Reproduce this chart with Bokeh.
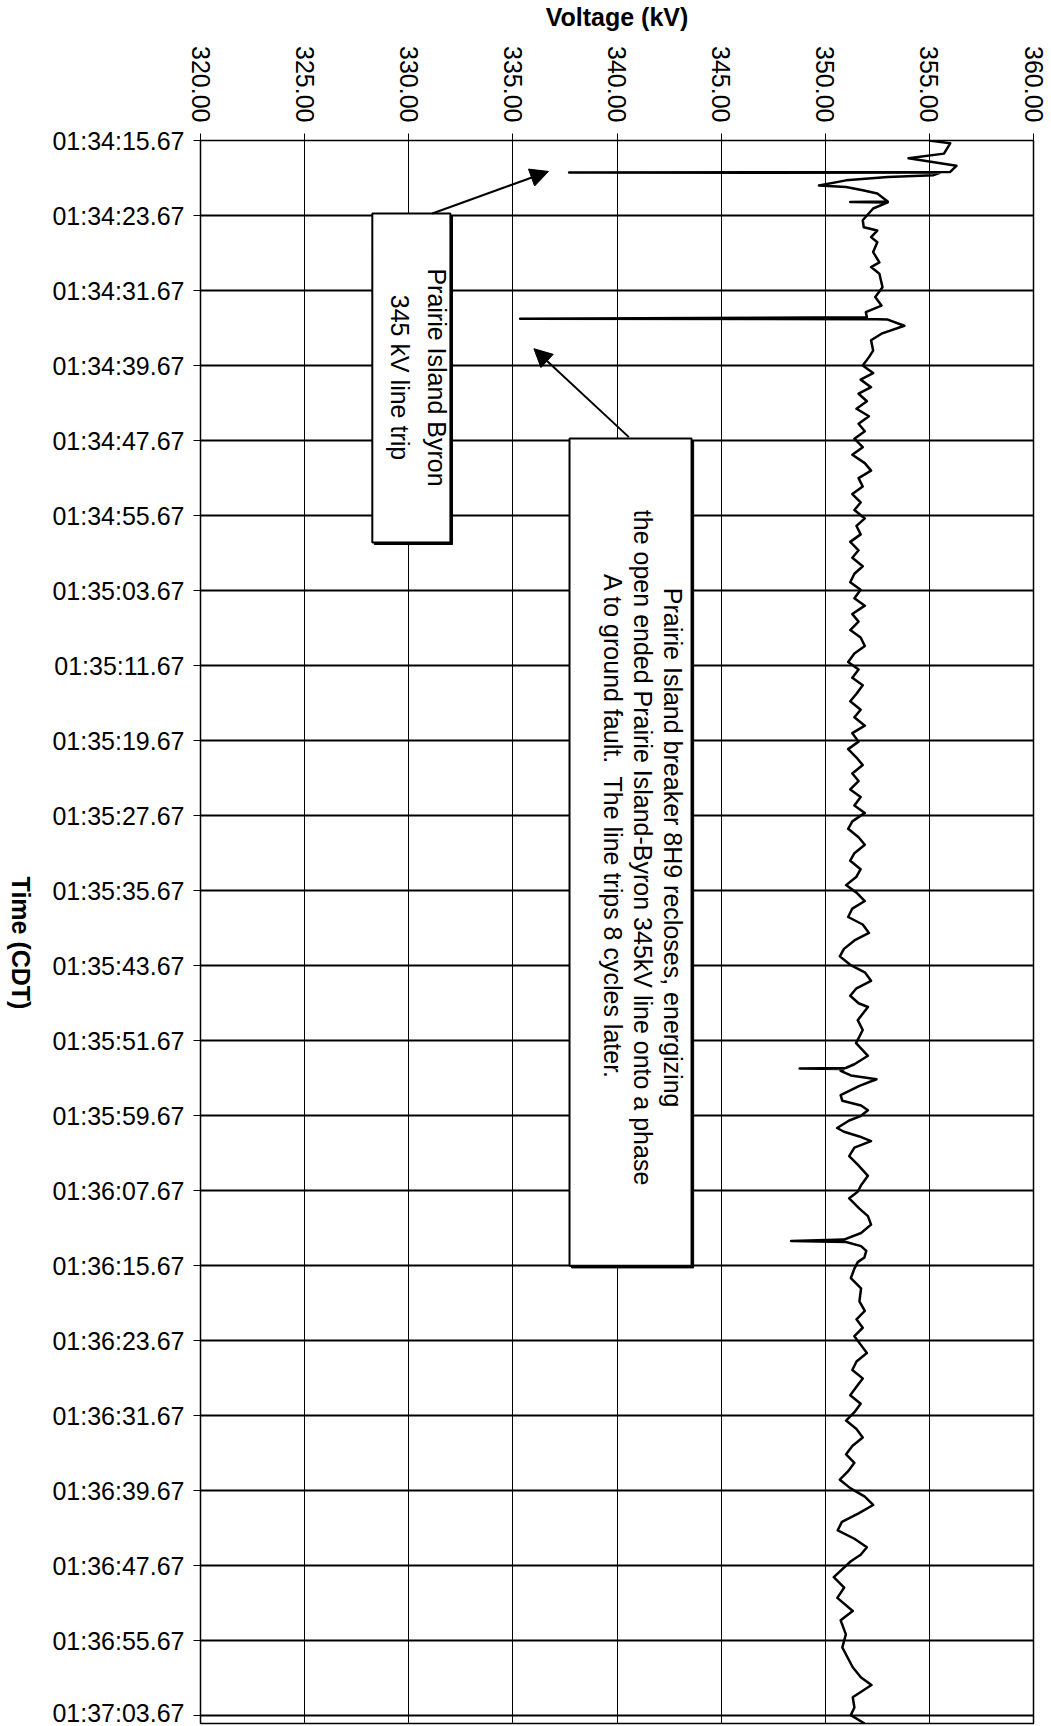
import math
from bokeh.plotting import figure
from bokeh.layouts import row
from bokeh.models import Range1d, FixedTicker, BoxAnnotation, Label, Arrow, NormalHead
from bokeh.core.properties import value
from bokeh.embed import file_html
from bokeh.resources import INLINE

# ---- data -------------------------------------------------------------
# time axis: seconds after 01:34:15.67 (CDT)
tick_seconds = [0, 8, 16, 24, 32, 40, 48, 56, 64, 72, 80, 88, 96, 104,
                112, 120, 128, 136, 144, 152, 160, 168]
tick_labels = ["01:34:15.67", "01:34:23.67", "01:34:31.67", "01:34:39.67",
               "01:34:47.67", "01:34:55.67", "01:35:03.67", "01:35:11.67",
               "01:35:19.67", "01:35:27.67", "01:35:35.67", "01:35:43.67",
               "01:35:51.67", "01:35:59.67", "01:36:07.67", "01:36:15.67",
               "01:36:23.67", "01:36:31.67", "01:36:39.67", "01:36:47.67",
               "01:36:55.67", "01:37:03.67"]
volt_ticks = [320, 325, 330, 335, 340, 345, 350, 355, 360]
volt_labels = ["320.00", "325.00", "330.00", "335.00", "340.00",
               "345.00", "350.00", "355.00", "360.00"]

# trace: (seconds after 01:34:15.67, kV)
t_sec = [0.0, 0.3, 1.4, 1.9, 2.7, 3.35, 3.4, 3.45, 3.7, 3.9, 4.25, 4.8, 4.95,
         5.3, 5.65, 6.5, 6.55, 6.6, 7.25, 8.5, 9.25, 9.6, 10.3, 10.85, 11.9,
         13.0, 13.5, 14.2, 15.65, 16.7, 17.6, 18.3, 18.85, 19.0, 19.05, 19.1,
         19.75, 20.6, 21.3, 22.4, 23.1,
         24.0, 24.8, 25.5, 26.3, 27.0, 27.8, 28.6, 29.4, 30.2, 31.0, 31.8,
         32.7, 33.5, 34.4, 35.2, 36.0, 36.9, 37.7, 38.6, 39.4, 40.3, 41.1,
         42.0, 42.8, 43.7, 44.5, 45.4, 46.2, 47.1, 47.9, 48.8, 49.6, 50.5,
         51.3, 52.2, 53.0, 53.9, 54.7, 55.6, 56.4, 57.3, 58.1, 59.0, 59.8,
         60.7, 61.5, 62.4, 63.2, 64.1, 64.9, 65.8, 66.6, 67.5, 68.3, 69.2,
         70.0, 70.9, 71.7, 72.6, 73.4, 74.3, 75.1, 76.0, 76.8, 77.7, 78.5,
         79.4, 80.2, 81.1, 81.9, 82.8, 83.6, 84.5, 85.3, 86.2, 87.0, 87.9,
         88.7, 89.6, 90.4, 91.2, 92.0,
         92.4, 93.8, 94.85, 96.25, 97.6, 98.5, 98.9, 98.95, 99.0, 99.2, 99.7,
         100.1, 100.8, 101.8, 102.4, 102.9, 103.4, 104.0, 104.5, 105.3, 105.7,
         106.2, 106.7, 107.4, 108.3, 109.2, 110.4, 111.4, 112.1, 112.8, 113.9,
         114.7, 115.6, 116.5, 117.2, 117.35, 117.45, 117.9, 118.4, 119.1,
         119.6, 120.3, 121.3, 122.4, 123.8,
         124.8, 125.7, 126.6, 127.5, 128.4, 129.3, 130.2, 131.1, 132.0, 132.9,
         133.8, 134.7, 135.6, 136.5, 137.4, 138.3, 139.2, 140.1, 141.0, 141.9,
         142.8, 143.7, 144.6, 145.5, 146.4, 147.3, 148.2, 149.1, 150.0, 150.8,
         151.5, 153.2, 154.3, 155.4, 156.8, 157.8, 159.3, 160.7, 162.8, 163.9,
         164.7, 166.0, 167.1, 167.9, 168.8]
kv = [355.0, 356.0, 355.7, 354.0, 356.3, 356.0, 337.7, 355.5, 355.2, 353.0,
      351.0, 349.7, 351.0, 351.8, 352.5, 353.0, 351.2, 353.0, 352.3, 351.8,
      351.85, 352.5, 352.2, 352.5, 352.3, 352.6, 352.2, 352.6, 352.75, 352.4,
      352.7, 351.95, 352.0, 335.35, 352.5, 353.0, 353.8, 352.7, 352.2, 352.3,
      352.1,
      351.8, 352.3, 351.7, 352.2, 351.6, 352.0, 351.5, 352.1, 351.6, 351.9,
      351.4, 351.8, 351.3, 351.9, 352.2, 351.6, 351.8, 351.3, 351.7, 351.4,
      351.9, 351.5, 351.7, 351.2, 351.6, 351.3, 351.8, 351.4, 351.2, 351.7,
      351.4, 351.9, 351.3, 351.6, 351.2, 351.7, 351.9, 351.4, 351.1, 351.6,
      351.3, 351.8, 351.5, 351.2, 351.7, 351.4, 351.9, 351.3, 351.6, 351.1,
      351.5, 351.8, 351.3, 351.6, 351.2, 351.7, 351.4, 351.9, 351.3, 351.1,
      351.6, 351.9, 351.4, 351.2, 351.7, 351.5, 351.0, 351.5, 351.9, 351.3,
      351.1, 351.8, 352.1, 351.4, 350.9, 350.7, 351.2, 351.9, 352.2, 351.5,
      351.2, 351.6,
      352.05, 351.56, 351.8, 351.48, 352.05, 351.4, 350.98, 348.77, 350.9,
      350.74, 351.23, 352.46, 351.64, 350.74, 350.82, 351.72, 352.05, 351.72,
      351.15, 350.57, 350.9, 351.64, 352.2, 351.4, 351.15, 351.56, 352.05,
      351.72, 351.56, 351.15, 351.64, 352.05, 352.2, 351.72, 350.9, 348.36,
      351.0, 351.72, 351.97, 351.88, 351.56, 351.4, 351.23, 351.72, 351.64,
      351.9, 351.5, 351.8, 351.4, 351.7, 352.0, 351.5, 351.3, 351.8, 351.5,
      351.2, 351.7, 351.4, 351.0, 351.5, 351.8, 351.3, 351.0, 351.4, 351.1,
      350.7, 351.2, 351.9, 352.3, 351.6, 350.8, 350.6, 351.4, 352.0, 351.7,
      351.23, 350.41, 350.91, 350.58, 351.32, 350.74, 350.99, 350.82, 351.32,
      351.72, 352.22, 351.32, 351.40, 351.23, 351.89]

FONT = "Liberation Sans"
TOTAL_W, TOTAL_H, TITLE_W = 1051, 1726, 40

# ---- narrow strip holding the y-axis title (reads top-to-bottom) ------
title_fig = figure(width=TITLE_W, height=TOTAL_H,
                   x_range=Range1d(0, TITLE_W), y_range=Range1d(0, TOTAL_H),
                   x_axis_type=None, y_axis_type=None,
                   output_backend="svg", toolbar_location=None,
                   min_border=0)
title_fig.outline_line_color = None
title_fig.grid.visible = False
title_fig.background_fill_color = "white"
title_fig.border_fill_color = "white"
title_fig.text(x=[20], y=[TOTAL_H - 875], text=["Time (CDT)"],
               angle=-math.pi / 2, text_align="center", text_baseline="middle",
               text_font=value(FONT), text_font_size="25px",
               text_font_style="bold", text_color="black")

# ---- main chart -------------------------------------------------------
p = figure(width=TOTAL_W - TITLE_W, height=TOTAL_H,
           x_range=Range1d(320, 360), y_range=Range1d(168.8, 0),
           x_axis_location="above", output_backend="svg",
           toolbar_location=None,
           min_border_left=200 - TITLE_W, min_border_top=140,
           min_border_right=18, min_border_bottom=3)
p.background_fill_color = "white"
p.border_fill_color = "white"
p.outline_line_color = "black"
p.outline_line_width = 1.5

xt = FixedTicker(ticks=volt_ticks)
yt = FixedTicker(ticks=tick_seconds)
p.xaxis.ticker = xt
p.yaxis.ticker = yt
p.xgrid.ticker = xt
p.ygrid.ticker = yt
p.xaxis.major_label_overrides = dict(zip(volt_ticks, volt_labels))
p.yaxis.major_label_overrides = dict(zip(tick_seconds, tick_labels))
p.xaxis.major_label_orientation = -math.pi / 2

for ax in (p.xaxis, p.yaxis):
    ax.major_label_text_font = FONT
    ax.major_label_text_font_size = "25px"
    ax.major_label_text_color = "black"
    ax.axis_label_text_font = FONT
    ax.axis_label_text_font_size = "25px"
    ax.axis_label_text_font_style = "bold"
    ax.axis_label_text_color = "black"
    ax.major_tick_out = 7
    ax.major_tick_in = 0
    ax.minor_tick_line_color = None
    ax.axis_line_color = "black"
    ax.major_tick_line_color = "black"

p.xaxis.axis_label = "Voltage (kV)"
p.xaxis.major_label_standoff = 11
p.xaxis.axis_label_standoff = 12
p.yaxis.major_label_standoff = 9

p.xgrid.grid_line_color = "black"
p.xgrid.grid_line_width = 1
p.ygrid.grid_line_color = "black"
p.ygrid.grid_line_width = 2

# ---- trace ------------------------------------------------------------
p.line(x=kv, y=t_sec, line_color="black", line_width=2.5, line_join="round")

# ---- annotations ------------------------------------------------------
def add_box(left, right, top, bottom):
    # thin drop shadow on right/bottom edges, then the white text box
    p.add_layout(BoxAnnotation(left=left + 0.1, right=right + 0.1,
                               top=top + 0.22, bottom=bottom + 0.22,
                               fill_color="black", fill_alpha=1.0,
                               line_color="black", line_width=1, line_alpha=1.0))
    p.add_layout(BoxAnnotation(left=left, right=right, top=top, bottom=bottom,
                               fill_color="white", fill_alpha=1.0,
                               line_color="black", line_width=2, line_alpha=1.0))

add_box(328.25, 332.0, 7.78, 42.86)
add_box(337.72, 343.58, 31.77, 120.0)

def add_text(x, y, txt):
    p.add_layout(Label(x=x, y=y, text=txt, angle=-math.pi / 2,
                       text_align="center", text_baseline="middle",
                       text_font=FONT, text_font_size="25px",
                       text_color="black"))

add_text(331.38, 25.27, "Prairie Island Byron")
add_text(329.56, 25.27, "345 kV line trip")
add_text(342.67, 75.4, "Prairie Island breaker 8H9 recloses, energizing")
add_text(341.23, 75.4, "the open ended Prairie Island-Byron 345kV line onto a phase")
add_text(339.79, 73.2, "A to ground fault.\u00a0 The line trips 8 cycles later.")

p.add_layout(Arrow(end=NormalHead(size=18, fill_color="black", line_color="black"),
                   x_start=331.13, y_start=7.78, x_end=336.71, y_end=3.3,
                   line_color="black", line_width=2))
p.add_layout(Arrow(end=NormalHead(size=18, fill_color="black", line_color="black"),
                   x_start=340.57, y_start=31.63, x_end=336.01, y_end=22.2,
                   line_color="black", line_width=2))

layout = row(title_fig, p, spacing=0)
open("out.html", "w").write(file_html(layout, INLINE))
